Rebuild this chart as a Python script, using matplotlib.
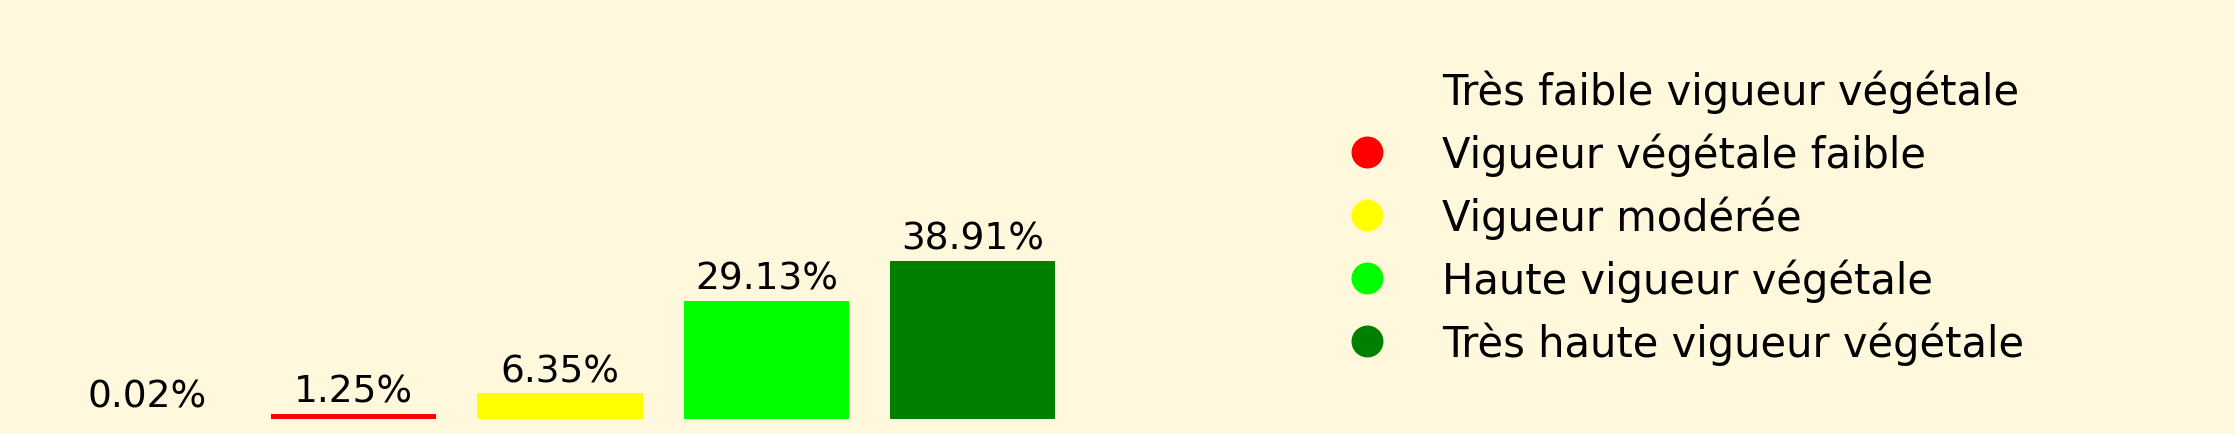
import matplotlib
matplotlib.use("Agg")
import matplotlib.pyplot as plt
from matplotlib.lines import Line2D

categories = ["Très faible vigueur végétale", "Vigueur végétale faible",
              "Vigueur modérée", "Haute vigueur végétale",
              "Très haute vigueur végétale"]
values = [0.02, 1.25, 6.35, 29.13, 38.91]
labels = ["0.02%", "1.25%", "6.35%", "29.13%", "38.91%"]
colors = ["#8B4513", "#FF0000", "#FFFF00", "#00FF00", "#008000"]
marker_colors = ["#FFF8DC", "#FF0000", "#FFFF00", "#00FF00", "#008000"]

bg = "#FFF8DC"
W, H = 2235, 435
fig = plt.figure(figsize=(W / 100, H / 100), dpi=100, facecolor=bg)
ax = fig.add_axes([15 / W, (H - 420) / H, 1090 / W, 406 / H])
ax.set_facecolor(bg)
x = list(range(len(values)))
bars = ax.bar(x, values, width=0.8, color=colors)
ax.bar_label(bars, labels=labels, padding=3, fontsize=27)
ax.set_xlim(-0.64, 4.64)
ax.set_ylim(0, 100)
ax.axis("off")

handles = [Line2D([], [], marker="o", linestyle="none", markersize=22,
                  markerfacecolor=c, markeredgecolor=c) for c in marker_colors]
fig.legend(handles, categories, loc="upper left",
           bbox_to_anchor=(1288 / W, 1 - 33 / H), frameon=False,
           fontsize=30, labelspacing=0.465)

fig.savefig("out.png", dpi=100, facecolor=bg)
